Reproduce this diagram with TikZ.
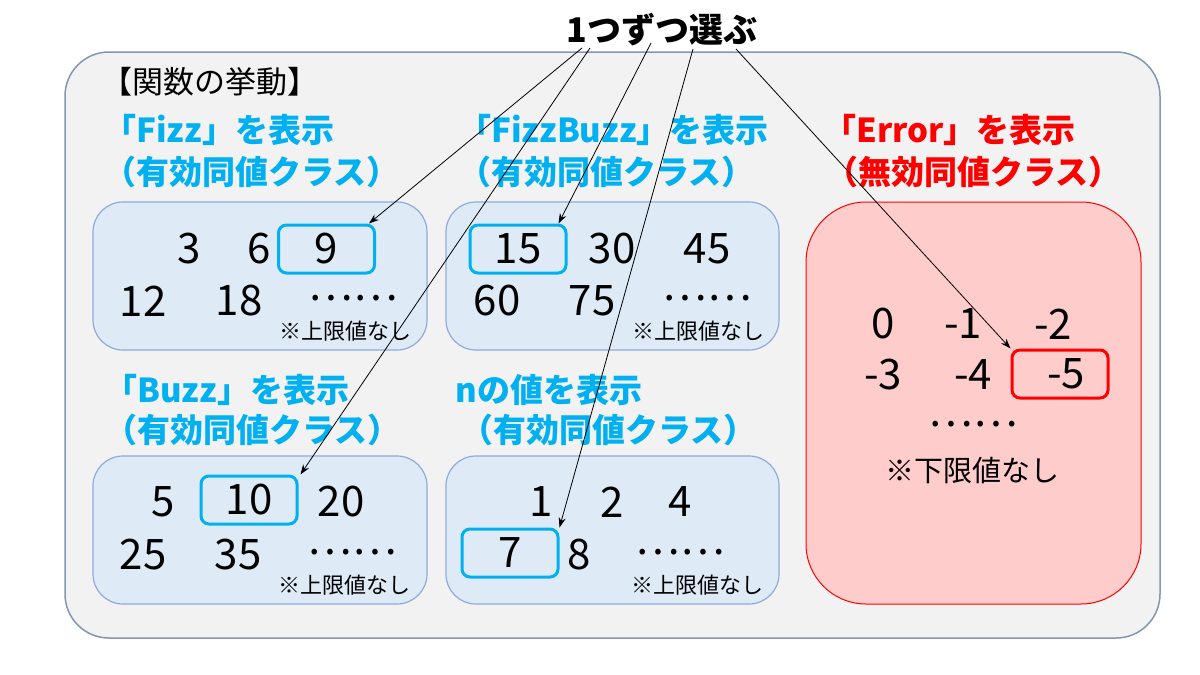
\documentclass[tikz,border=0pt]{standalone}
\usepackage{fontspec}
\setmainfont{Noto Sans CJK JP}
\usetikzlibrary{arrows.meta}
\definecolor{panelfill}{RGB}{242,242,242}
\definecolor{panelline}{RGB}{132,151,176}
\definecolor{setfill}{RGB}{222,235,247}
\definecolor{setline}{RGB}{143,170,220}
\definecolor{validblue}{RGB}{0,176,240}
\definecolor{errfill}{RGB}{255,204,204}
\definecolor{errred}{RGB}{255,0,0}
\tikzset{
  setbox/.style={draw=setline, fill=setfill, line width=0.6pt, rounded corners=15pt},
  errbox/.style={draw=errred, fill=errfill, line width=0.5pt, rounded corners=30pt},
  head/.style={anchor=west, inner sep=0pt, text=validblue, font=\bfseries\fontsize{16.5}{19}\selectfont},
  errhead/.style={head, text=errred},
  num/.style={inner sep=0pt, font=\fontsize{21}{24}\selectfont},
  note/.style={inner sep=0pt, font=\fontsize{11}{13}\selectfont},
  pick/.style={num, draw=validblue, line width=1.5pt, rounded corners=4pt, minimum width=48pt, minimum height=24pt},
  errpick/.style={pick, draw=errred},
  choose/.style={-{Stealth[length=5pt,width=3.5pt]}, line width=0.4pt}
}
\begin{document}
\begin{tikzpicture}[x=0.5pt, y=-0.5pt]
  \useasboundingbox (0,0) rectangle (1200,675);
  \draw[draw=panelline, fill=panelfill, line width=0.75pt, rounded corners=22pt] (65,52) rectangle (1160,638);
  \node[inner sep=0pt, anchor=west, font=\fontsize{15.5}{18}\selectfont] (behav) at (101,82) {【関数の挙動】};
  \node[inner sep=0pt, font=\bfseries\fontsize{17}{20}\selectfont] (sel) at (662,30) {1つずつ選ぶ};

  \node[head] (fizz1) at (103,130) {「Fizz」を表示};
  \node[head] (fizz2) at (103,172) {（有効同値クラス）};
  \node[head] (fb1) at (458,130) {「FizzBuzz」を表示};
  \node[head] (fb2) at (458,172) {（有効同値クラス）};
  \node[errhead] (err1) at (823,130) {「Error」を表示};
  \node[errhead] (err2) at (825,172) {（無効同値クラス）};
  \node[head] (buzz1) at (104,390) {「Buzz」を表示};
  \node[head] (buzz2) at (104,430) {（有効同値クラス）};
  \node[head] (n1) at (455,390) {nの値を表示};
  \node[head] (n2) at (460,430) {（有効同値クラス）};

  \draw[setbox] (93,202) rectangle (427,350);
  \draw[setbox] (446,202) rectangle (779,350);
  \draw[setbox] (93,456) rectangle (427,604);
  \draw[setbox] (446,456) rectangle (779,604);
  \draw[errbox] (806,202) rectangle (1141,604);

  \node[num] (f3) at (189,249) {3};
  \node[num] (f6) at (259,249) {6};
  \node[pick] (h9) at (326.5,249) {9};
  \node[num] (f12) at (143,301) {12};
  \node[num] (f18) at (239,301) {18};
  \node[num] (fdots) at (353,298) {……};
  \node[note] (fnote) at (345,331) {※上限値なし};

  \node[pick] (h15) at (518,249) {15};
  \node[num] (fb30) at (612,249) {30};
  \node[num] (fb45) at (707,249) {45};
  \node[num] (fb60) at (497,301) {60};
  \node[num] (fb75) at (592,301) {75};
  \node[num] (fbdots) at (707,298) {……};
  \node[note] (fbnote) at (698,331) {※上限値なし};

  \node[num] (b5) at (163,502) {5};
  \node[pick] (h10) at (249,500) {10};
  \node[num] (b20) at (341,502) {20};
  \node[num] (b25) at (143,555) {25};
  \node[num] (b35) at (238,555) {35};
  \node[num] (bdots) at (352,552) {……};
  \node[note] (bnote) at (344,585) {※上限値なし};

  \node[num] (n1v) at (541,502) {1};
  \node[num] (n2v) at (612,502) {2};
  \node[num] (n4v) at (680,502) {4};
  \node[pick] (h7) at (510,553) {7};
  \node[num] (n8) at (579,555) {8};
  \node[num] (ndots) at (680,552) {……};
  \node[note] (nnote) at (697,585) {※上限値なし};

  \node[num] (e0) at (883,324) {0};
  \node[num] (e1) at (963,324) {-1};
  \node[num] (e2) at (1053,324) {-2};
  \node[num] (e3) at (883,375) {-3};
  \node[num] (e4) at (973,375) {-4};
  \node[errpick] (h5) at (1060,374) {\hspace{6pt}-5};
  \node[num] (edots) at (973,424) {……};
  \node[note, font=\fontsize{14.5}{17}\selectfont] (enote) at (972,470) {※下限値なし};

  \coordinate (s9) at (582,48);
  \coordinate (s10) at (590,48);
  \coordinate (s15) at (651,43);
  \coordinate (s7) at (693,49);
  \coordinate (s5) at (736,49);
  \draw[choose] (s9) -- ([xshift=-3.5pt]h9.north east);
  \draw[choose] (s10) -- ([xshift=1pt]h10.north east);
  \draw[choose] (s15) -- ([xshift=-4.5pt]h15.north east);
  \draw[choose] (s7) -- (h7.north east);
  \draw[choose] (s5) -- (h5.north west);
\end{tikzpicture}
\end{document}
